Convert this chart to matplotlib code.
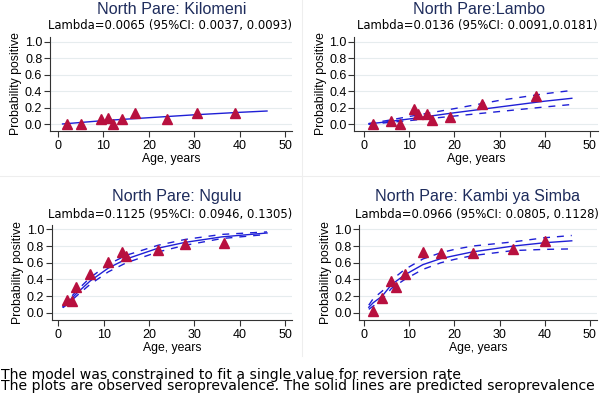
import matplotlib
matplotlib.use("Agg")
import matplotlib.pyplot as plt
from matplotlib.lines import Line2D

plt.rcParams['font.family'] = ['Liberation Sans', 'DejaVu Sans']

# ---------------- data ----------------
titles = ["North Pare: Kilomeni", "North Pare:Lambo", "North Pare: Ngulu", "North Pare: Kambi ya Simba"]
subtitles = ["Lambda=0.0065 (95%CI: 0.0037, 0.0093)",
             "Lambda=0.0136 (95%CI: 0.0091,0.0181)",
             "Lambda=0.1125 (95%CI: 0.0946, 0.1305)",
             "Lambda=0.0966 (95%CI: 0.0805, 0.1128)"]

# observed points
kil_age = [2, 5, 9.5, 11, 12, 14, 17, 24, 30.5, 39]
kil_obs = [0.0, 0.0, 0.065, 0.075, 0.0, 0.065, 0.133, 0.06, 0.137, 0.141]
lam_age = [2, 6, 8, 11, 12, 14, 15, 19, 26, 38]
lam_obs = [0.0, 0.04, 0.0, 0.185, 0.13, 0.12, 0.056, 0.089, 0.25, 0.343]
ngu_age = [2, 3, 4, 7, 11, 14, 15, 22, 28, 36.5]
ngu_obs = [0.153, 0.137, 0.306, 0.464, 0.605, 0.726, 0.677, 0.758, 0.819, 0.831]
kam_age = [2, 4, 6, 7, 9, 13, 17, 24, 33, 40]
kam_obs = [0.024, 0.173, 0.375, 0.306, 0.464, 0.734, 0.714, 0.718, 0.766, 0.855]

# predicted curves (solid) and 95% CI (dashed)
kil_fit_age = [1, 10, 20, 30, 40, 46]
kil_fit = [0.004, 0.045, 0.08, 0.115, 0.145, 0.161]

lam_fit_age = [1, 5, 10, 20, 30, 40, 46]
lam_fit = [0.005, 0.03, 0.065, 0.14, 0.21, 0.28, 0.315]
lam_hi = [0.01, 0.045, 0.095, 0.19, 0.29, 0.37, 0.41]
lam_lo = [0.0, 0.02, 0.045, 0.10, 0.155, 0.21, 0.24]

ngu_fit_age = [1, 2, 4, 7, 11, 15, 22, 28, 36, 46]
ngu_fit = [0.07, 0.12, 0.23, 0.38, 0.535, 0.645, 0.775, 0.845, 0.91, 0.957]
ngu_hi = [0.08, 0.14, 0.26, 0.42, 0.58, 0.69, 0.81, 0.88, 0.94, 0.97]
ngu_lo = [0.06, 0.10, 0.20, 0.34, 0.49, 0.60, 0.73, 0.81, 0.89, 0.94]

kam_fit_age = [1, 2, 4, 6, 9, 13, 17, 20, 24, 33, 40, 46]
kam_fit = [0.065, 0.12, 0.20, 0.335, 0.455, 0.577, 0.65, 0.685, 0.73, 0.80, 0.84, 0.863]
kam_hi = [0.09, 0.17, 0.26, 0.39, 0.52, 0.645, 0.72, 0.76, 0.80, 0.85, 0.90, 0.927]
kam_lo = [0.04, 0.08, 0.16, 0.29, 0.40, 0.52, 0.60, 0.64, 0.685, 0.746, 0.76, 0.766]

xticks = [0, 10, 20, 30, 40, 50]
yticks = [0.0, 0.2, 0.4, 0.6, 0.8, 1.0]
foot = ["The model was constrained to fit a single value for reversion rate",
        "The plots are observed seroprevalence. The solid lines are predicted seroprevalence"]

# ---------------- figure ----------------
W, H = 600, 397
fig = plt.figure(figsize=(W / 100, H / 100), dpi=100)
fig.patch.set_facecolor('white')

def rect(l, r, t, b):
    return [l / W, 1 - b / H, (r - l) / W, (b - t) / H]

panels = [
    dict(r=rect(50, 292, 37, 131), xl=(-1.76, 51.5), yl=(-0.081, 1.057),
         age=kil_age, obs=kil_obs, fa=kil_fit_age, fit=kil_fit, hi=None, lo=None),
    dict(r=rect(354.3, 598, 37, 131), xl=(-2.2, 51.8), yl=(-0.081, 1.057),
         age=lam_age, obs=lam_obs, fa=lam_fit_age, fit=lam_fit, hi=lam_hi, lo=lam_lo),
    dict(r=rect(51.7, 292, 225, 320), xl=(-1.46, 51.5), yl=(-0.088, 1.053),
         age=ngu_age, obs=ngu_obs, fa=ngu_fit_age, fit=ngu_fit, hi=ngu_hi, lo=ngu_lo),
    dict(r=rect(359.3, 597, 225, 320), xl=(-1.1, 51.6), yl=(-0.088, 1.053),
         age=kam_age, obs=kam_obs, fa=kam_fit_age, fit=kam_fit, hi=kam_hi, lo=kam_lo),
]
title_cx = [171.7, 479, 176.5, 477.5]
sub_cx = [170, 477, 170, 477]
title_base = [13.5, 13.5, 201.5, 201.5]
sub_base = [28.5, 28.5, 217.5, 217.5]

line_c = '#1f1fd6'
mark_c = '#b8103f'
title_c = '#1e2c5c'

for i, p in enumerate(panels):
    ax = fig.add_axes(p['r'])
    ax.set_xlim(*p['xl'])
    ax.set_ylim(*p['yl'])
    for s in ['top', 'right']:
        ax.spines[s].set_visible(False)
    for s in ['left', 'bottom']:
        ax.spines[s].set_color('#333333')
        ax.spines[s].set_linewidth(0.8)
    ax.set_xticks(xticks)
    ax.set_yticks(yticks)
    ax.set_yticklabels([f"{v:.1f}" for v in yticks])
    ax.tick_params(axis='both', direction='out', length=4, width=0.8,
                   color='#333333', labelsize=9)
    ax.tick_params(axis='y', pad=1.5)
    ax.tick_params(axis='x', pad=2.5)
    ax.yaxis.grid(True, color='#e6ecee', linewidth=0.8)
    ax.set_axisbelow(True)
    ax.set_xlabel("Age, years", fontsize=8.8, labelpad=0.5)
    ax.set_ylabel("Probability positive", fontsize=8.8, labelpad=2)

    if p['hi'] is not None:
        for arr in (p['hi'], p['lo']):
            ln, = ax.plot(p['fa'], arr, color=line_c, lw=1.0, zorder=2)
            ln.set_dashes((5, 5))
    ax.plot(p['fa'], p['fit'], color=line_c, lw=1.0, zorder=3)
    ax.plot(p['age'], p['obs'], linestyle='none', marker='^', markersize=6.5,
            color=mark_c, markeredgecolor=mark_c, zorder=4, clip_on=False)

    fig.text(title_cx[i] / W, 1 - title_base[i] / H, titles[i], ha='center',
             va='baseline', fontsize=11.6, color=title_c)
    fig.text(sub_cx[i] / W, 1 - sub_base[i] / H, subtitles[i], ha='center',
             va='baseline', fontsize=8.4, color='black', family='DejaVu Sans')

# faint panel separators
fig.add_artist(Line2D([0, 1], [1 - 176 / H, 1 - 176 / H], color='#eeeeee', lw=0.8))
fig.add_artist(Line2D([302 / W, 302 / W], [1 - 356 / H, 1], color='#eeeeee', lw=0.8))

fig.text(1 / W, 1 - 390 / H, "\n".join(foot), ha='left', va='baseline',
         fontsize=10.1, linespacing=0.75, family='DejaVu Sans')

fig.savefig("out.png", dpi=100, facecolor='white')
